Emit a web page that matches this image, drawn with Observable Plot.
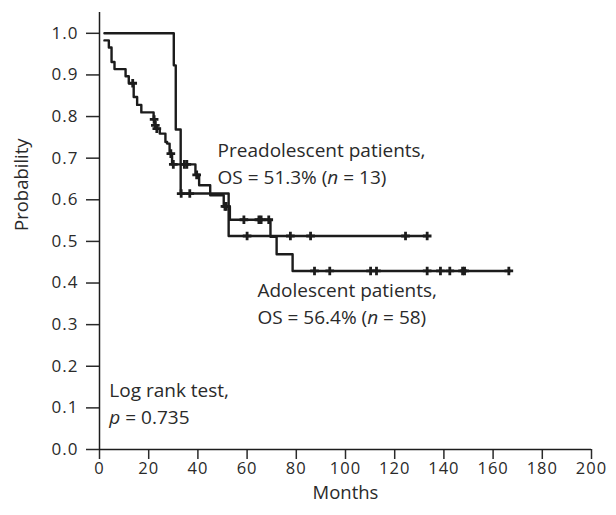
<!DOCTYPE html>
<html><head><meta charset="utf-8">
<script src="https://cdn.jsdelivr.net/npm/d3@7"></script>
<script src="https://cdn.jsdelivr.net/npm/@observablehq/plot@0.6"></script>
<style>
body{margin:0;background:#fff;}
</style></head><body><div id="chart"></div>
<script>
// Preadolescent patients (n = 13) – step curve
const preMonths = [2, 30.2, 31, 33, 52.5, 133.2];
const preSurv   = [1.0, 0.923, 0.769, 0.615, 0.513, 0.513];
const preCensorMonths = [33.2, 36.7, 60, 77.6, 85.8, 124.4, 133.2];
const preCensorSurv   = [0.615, 0.615, 0.513, 0.513, 0.513, 0.513, 0.513];

// Adolescent patients (n = 58) – step curve
const adoMonths = [2, 3.8, 4.9, 6.1, 10.6, 11.9, 13.9, 15.3, 17, 22, 22.5, 23, 24.5, 26.8, 27.5, 28.5, 29.5, 39, 40.5, 45, 50.5, 53, 69.5, 72, 78.5, 167];
const adoSurv   = [0.983, 0.966, 0.931, 0.914, 0.897, 0.880, 0.847, 0.828, 0.810, 0.793, 0.779, 0.771, 0.759, 0.739, 0.735, 0.711, 0.685, 0.660, 0.635, 0.611, 0.584, 0.552, 0.511, 0.469, 0.429, 0.429];
const adoCensorMonths = [13.5, 22.2, 22.7, 23.3, 29, 30, 34.5, 35.5, 39.5, 51, 51.5, 58.7, 64.8, 65.7, 68.8, 87.4, 93.6, 110.2, 112.6, 133.2, 138.6, 142.4, 147.6, 148.4, 166.4];
const adoCensorSurv   = [0.880, 0.793, 0.779, 0.771, 0.711, 0.685, 0.685, 0.685, 0.660, 0.584, 0.584, 0.552, 0.552, 0.552, 0.552, 0.429, 0.429, 0.429, 0.429, 0.429, 0.429, 0.429, 0.429, 0.429, 0.429];

const xTicks = [0, 20, 40, 60, 80, 100, 120, 140, 160, 180, 200];
const yTicks = [0, 0.1, 0.2, 0.3, 0.4, 0.5, 0.6, 0.7, 0.8, 0.9, 1.0];

const preLabel = ["Preadolescent patients,", "OS = 51.3% (n = 13)"];
const adoLabel = ["Adolescent patients,", "OS = 56.4% (n = 58)"];
const testLabel = ["Log rank test,", "p = 0.735"];

const preLine = preMonths.map((t, i) => ({t, s: preSurv[i]}));
const adoLine = adoMonths.map((t, i) => ({t, s: adoSurv[i]}));
const preCens = preCensorMonths.map((t, i) => ({t, s: preCensorSurv[i]}));
const adoCens = adoCensorMonths.map((t, i) => ({t, s: adoCensorSurv[i]}));

const ink = "#1c1c1c";
const txt = "#2a2a2a";
const font = "'Open Sans', sans-serif";

const plot = Plot.plot({
  width: 616, height: 515,
  marginLeft: 99, marginRight: 25, marginTop: 12, marginBottom: 66,
  style: {fontFamily: font, fontSize: "17px", color: txt, background: "#fff"},
  x: {domain: [0, 200]},
  y: {domain: [0, 1.05]},
  marks: [
    Plot.axisY({ticks: yTicks, tickFormat: d3.format(".1f"), tickSize: 13, tickPadding: 8, strokeWidth: 1.5,
      fontSize: 17, label: null}),
    Plot.axisX({ticks: xTicks, tickSize: 10, tickPadding: 3, strokeWidth: 1.5,
      fontSize: 16.5, label: null}),
    Plot.text(["Probability"], {frameAnchor: "left", dx: -77, rotate: -90, text: d => d, fontSize: 18.5, fill: txt, lineAnchor: "middle"}),
    Plot.text(["Months"], {frameAnchor: "bottom", dy: 44, text: d => d, fontSize: 18.5, fill: txt, lineAnchor: "middle"}),
    Plot.ruleX([0], {y1: 0, y2: 1.05, stroke: ink, strokeWidth: 1.5}),
    Plot.ruleY([0], {x1: 0, x2: 200, stroke: ink, strokeWidth: 1.5}),
    Plot.line(adoLine, {x: "t", y: "s", curve: "step-after", stroke: ink, strokeWidth: 2.4}),
    Plot.line(preLine, {x: "t", y: "s", curve: "step-after", stroke: ink, strokeWidth: 2.4}),
    Plot.dot(adoCens, {x: "t", y: "s", symbol: "plus", r: 2.9, stroke: ink, strokeWidth: 2.8, fill: "none"}),
    Plot.dot(preCens, {x: "t", y: "s", symbol: "plus", r: 2.9, stroke: ink, strokeWidth: 2.8, fill: "none"}),
    Plot.text([preLabel.join("\n")], {x: 48, y: 0.639, text: d => d, textAnchor: "start", lineAnchor: "bottom", lineHeight: 1.4, fontSize: 19, fill: txt}),
    Plot.text([adoLabel.join("\n")], {x: 64.2, y: 0.302, text: d => d, textAnchor: "start", lineAnchor: "bottom", lineHeight: 1.4, fontSize: 19, fill: txt}),
    Plot.text([testLabel.join("\n")], {x: 4, y: 0.062, text: d => d, textAnchor: "start", lineAnchor: "bottom", lineHeight: 1.4, fontSize: 19, fill: txt})
  ]
});

// slightly wider tick-label spacing
plot.querySelectorAll("g[aria-label='y-axis tick label'] text, g[aria-label='x-axis tick label'] text").forEach(t => t.setAttribute("letter-spacing", "1"));

// italicize statistical symbols n and p
const NS = "http://www.w3.org/2000/svg";
plot.querySelectorAll("text, tspan").forEach(el => {
  if (el.childElementCount !== 0) return;
  const s = el.textContent;
  let m = s.match(/^(.*\()n( = .*)$/) || s.match(/^()p( = .*)$/);
  if (!m) return;
  const letter = s.includes("(n") ? "n" : "p";
  el.textContent = "";
  el.appendChild(document.createTextNode(m[1]));
  const it = document.createElementNS(NS, "tspan");
  it.setAttribute("font-style", "italic");
  it.textContent = letter;
  el.appendChild(it);
  el.appendChild(document.createTextNode(m[2]));
});

document.getElementById("chart").appendChild(plot);
</script></body></html>
